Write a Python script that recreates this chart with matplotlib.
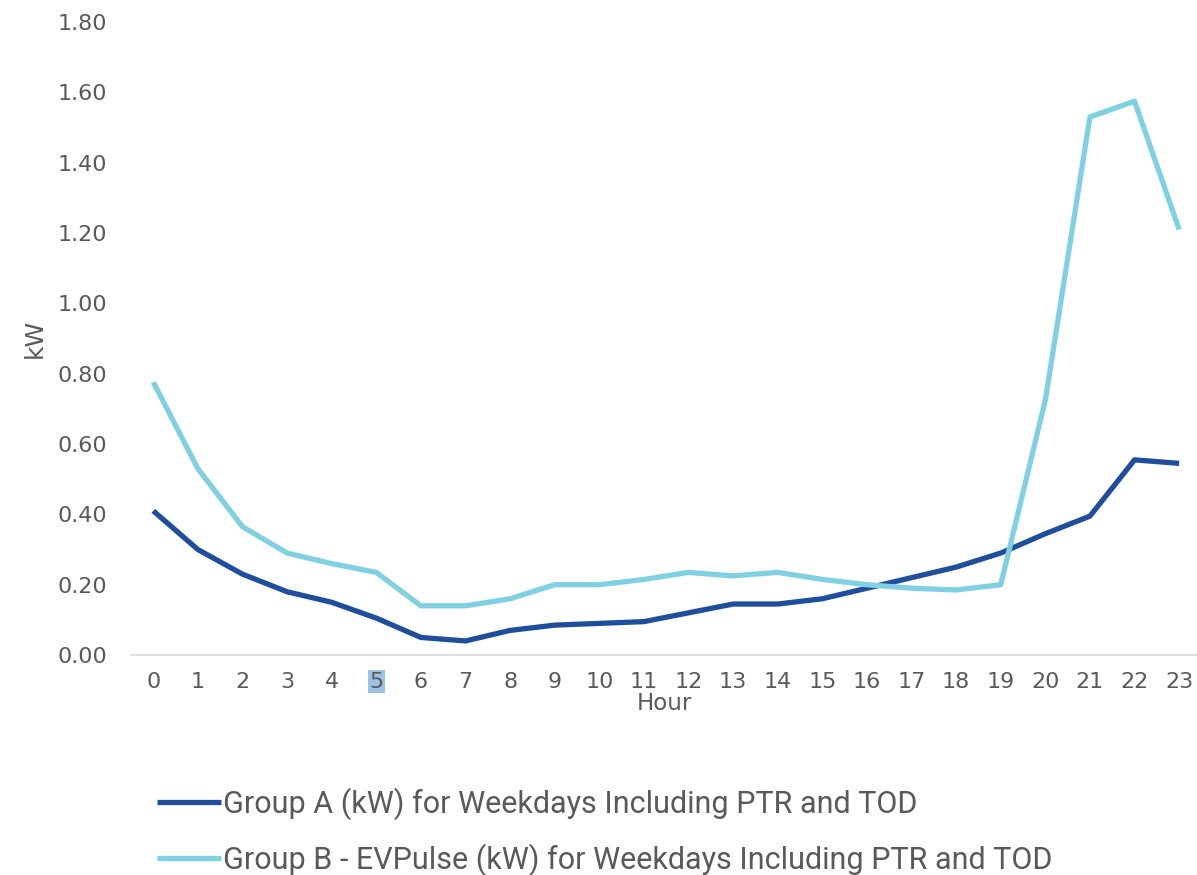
import matplotlib
matplotlib.use("Agg")
import matplotlib.pyplot as plt

hours = list(range(24))
group_a = [0.41, 0.30, 0.23, 0.18, 0.15, 0.105, 0.05, 0.04, 0.07, 0.085, 0.09, 0.095,
           0.12, 0.145, 0.145, 0.16, 0.19, 0.22, 0.25, 0.29, 0.345, 0.395, 0.555, 0.545]
group_b = [0.776, 0.53, 0.365, 0.29, 0.26, 0.235, 0.14, 0.14, 0.16, 0.20, 0.20, 0.215,
           0.235, 0.225, 0.235, 0.215, 0.20, 0.19, 0.185, 0.20, 0.725, 1.53, 1.575, 1.21]
y_ticks = [0.0, 0.2, 0.4, 0.6, 0.8, 1.0, 1.2, 1.4, 1.6, 1.8]
label_a = "Group A (kW) for Weekdays Including PTR and TOD"
label_b = "Group B - EVPulse (kW) for Weekdays Including PTR and TOD"

dark = "#1f4e9c"
light = "#7fd0e2"
gray = "#595959"

fig = plt.figure(figsize=(11.97, 8.75), dpi=100)
ax = fig.add_axes([0.1094, 0.2514, 0.8906, 0.7234])
ax.plot(hours, group_a, color=dark, lw=3.8, label=label_a, solid_capstyle="butt")
ax.plot(hours, group_b, color=light, lw=3.8, label=label_b, solid_capstyle="butt")

ax.set_xlim(-0.5, 23.4)
ax.set_ylim(0, 1.8)
ax.set_yticks(y_ticks)
ax.set_yticklabels([f"{v:.2f}" for v in y_ticks], family="DejaVu Sans")
ax.set_xticks(hours)
ax.set_xticklabels([str(h) for h in hours], family="DejaVu Sans")
ax.tick_params(axis="both", length=0, colors=gray, labelsize=16)
ax.tick_params(axis="y", pad=17)
ax.tick_params(axis="x", pad=12)
for s in ["top", "right", "left"]:
    ax.spines[s].set_visible(False)
ax.spines["bottom"].set_color("#d9d9d9")
ax.spines["bottom"].set_linewidth(1.2)

lbl5 = ax.get_xticklabels()[5]
lbl5.set_bbox(dict(facecolor="#9cc3e5", edgecolor="none", pad=1))

ax.set_xlabel("Hour", fontsize=16.5, color=gray, labelpad=0, family="DejaVu Sans")
ax.set_ylabel("kW", fontsize=18, color=gray, labelpad=8, family="DejaVu Sans")

handles, labels = ax.get_legend_handles_labels()
leg = fig.legend(handles, labels, loc="upper left", bbox_to_anchor=(0.131, 0.100),
                 frameon=False, handlelength=2.1, handletextpad=0.05, labelspacing=0.75,
                 borderpad=0, borderaxespad=0,
                 prop={"family": "Roboto", "size": 22})
for t in leg.get_texts():
    t.set_color(gray)

fig.savefig("out.png", dpi=100)
